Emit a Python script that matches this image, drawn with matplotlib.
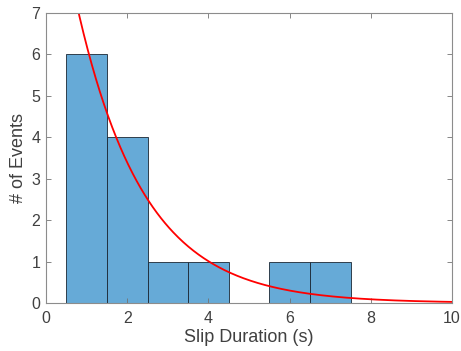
import matplotlib.pyplot as plt
import numpy as np

# histogram of slip durations (bin edges and counts)
bin_edges = [0.5, 1.5, 2.5, 3.5, 4.5, 5.5, 6.5, 7.5]
counts = [6, 4, 1, 1, 0, 1, 1]

# exponential fit: y = amplitude * exp(-x / tau)
fit_amplitude = 11.4
fit_tau = 1.65
fit_x_range = (0.0, 10.0)

x_ticks = [0, 2, 4, 6, 8, 10]
y_ticks = [0, 1, 2, 3, 4, 5, 6, 7]

plt.rcParams["font.family"] = ["Liberation Sans", "DejaVu Sans"]

fig = plt.figure(figsize=(4.61, 3.51), dpi=100)
ax = fig.add_axes([46 / 461, 48 / 351, 406 / 461, 290 / 351])

edges = np.array(bin_edges)
ax.bar(edges[:-1], counts, width=np.diff(edges), align="edge",
       color=(0.4, 0.668, 0.845), edgecolor=(0.1, 0.15, 0.2), linewidth=0.6)

x = np.linspace(fit_x_range[0], fit_x_range[1], 400)
ax.plot(x, fit_amplitude * np.exp(-x / fit_tau), color="red", linewidth=1.3)

ax.set_xlim(0, 10)
ax.set_ylim(0, 7)
ax.set_xticks(x_ticks)
ax.set_yticks(y_ticks)

text_grey = (0.25, 0.25, 0.25)
for spine in ax.spines.values():
    spine.set_color((0.55, 0.55, 0.55))
    spine.set_linewidth(0.8)
ax.tick_params(direction="in", top=True, right=True, length=3.5, width=0.6,
               color=(0.45, 0.45, 0.45), labelsize=11.5, labelcolor=text_grey)
ax.tick_params(axis="x", pad=6)
ax.tick_params(axis="y", pad=4)

ax.set_xlabel("Slip Duration (s)", fontsize=13, color=text_grey, labelpad=2)
ax.set_ylabel("# of Events", fontsize=13, color=text_grey, labelpad=3)

fig.savefig("out.png", dpi=100)
plt.close(fig)
